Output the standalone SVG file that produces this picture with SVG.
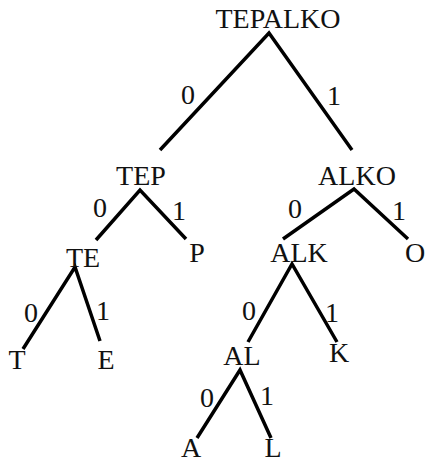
<svg xmlns="http://www.w3.org/2000/svg" width="427" height="463" viewBox="0 0 427 463">
<style>
text{font-family:"Liberation Serif","Times New Roman",serif;font-size:28px;fill:#111;text-anchor:middle}
.e{stroke:#000;stroke-width:3.5;fill:none;stroke-linecap:butt}
</style>
<rect width="427" height="463" fill="#fff"/>
<g id="connectors">
<path class="e" d="M160 150L269 33L352 150"/>
<path class="e" d="M96 240L140 190L186 239"/>
<path class="e" d="M283 239L354 189L408 239"/>
<path class="e" d="M23 349L75 267L100 341"/>
<path class="e" d="M248 342L292 264L337 342"/>
<path class="e" d="M197 438L240 370L271 438"/>
</g>
<g id="labels">
<text x="188" y="104">0</text><text x="334" y="105">1</text>
<text x="100" y="217">0</text><text x="179" y="220">1</text>
<text x="295" y="218">0</text><text x="399" y="220">1</text>
<text x="31" y="322">0</text><text x="103" y="320">1</text>
<text x="249" y="320">0</text><text x="332" y="322">1</text>
<text x="207" y="407">0</text><text x="267" y="405">1</text>
</g>
<g id="TEPALKO"><text x="278" y="28">TEPALKO</text></g>
<g id="TEP"><text x="141" y="185">TEP</text></g>
<g id="ALKO"><text x="357" y="185">ALKO</text></g>
<g id="TE"><text x="83" y="267">TE</text></g>
<g id="P"><text x="197" y="262">P</text></g>
<g id="ALK"><text x="299" y="262">ALK</text></g>
<g id="O"><text x="415" y="262">O</text></g>
<g id="T"><text x="17" y="369">T</text></g>
<g id="E"><text x="106" y="369">E</text></g>
<g id="AL"><text x="242" y="365">AL</text></g>
<g id="K"><text x="339" y="362">K</text></g>
<g id="A"><text x="191" y="457">A</text></g>
<g id="L"><text x="273" y="457">L</text></g>
</svg>
